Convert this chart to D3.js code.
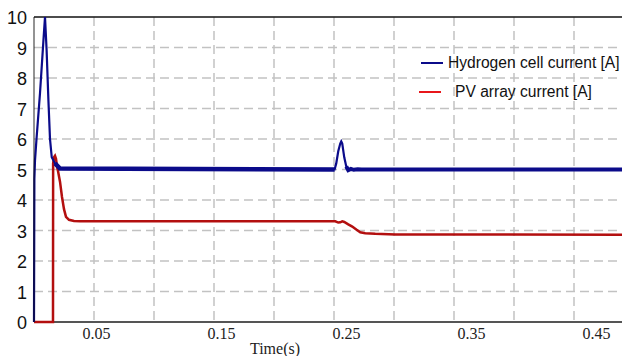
<!DOCTYPE html>
<html lang="en">
<head>
  <meta charset="UTF-8">
  <title>Hydrogen cell and PV array current</title>
  <script src="https://d3js.org/d3.v7.min.js"></script>
  <style>
    body { margin: 0; background: #fff; }
    svg { display: block; }
  </style>
</head>
<body>

<div id="chart"></div>

<script>
  // time (s) / current (A)
  const hydrogenT = [0, 0.0003, 0.0008, 0.002, 0.0048, 0.0075, 0.0088, 0.0101, 0.0115, 0.0128, 0.0142, 0.0168, 0.0208,
    0.2405, 0.2418, 0.2434, 0.245, 0.2458, 0.2466, 0.2482, 0.2498, 0.2514, 0.2535, 0.2558, 0.259, 0.262, 0.266, 0.4704];
  const hydrogenI = [0, 4.7, 5.3, 6.0, 7.5, 9.2, 10, 8.9, 7.3, 6.0, 5.4, 5.2, 5.03,
    5.0, 5.2, 5.6, 5.85, 5.92, 5.85, 5.4, 5.1, 4.98, 5.02, 4.99, 5.01, 5.0, 5.0, 5.0];

  const pvT = [0, 0.0152, 0.0153, 0.016, 0.0168, 0.0176, 0.0184, 0.0192, 0.0208, 0.0224, 0.024, 0.0256, 0.028, 0.032, 0.0368,
    0.241, 0.2434, 0.245, 0.2466, 0.2482, 0.2514, 0.2546, 0.2578, 0.261, 0.265, 0.273, 0.289, 0.4704];
  const pvI = [0, 0, 5.2, 5.4, 5.45, 5.35, 5.1, 4.95, 4.6, 4.1, 3.7, 3.45, 3.35, 3.31, 3.3,
    3.3, 3.26, 3.27, 3.3, 3.28, 3.2, 3.13, 3.03, 2.94, 2.91, 2.89, 2.87, 2.86];

  const xTicks = [0.05, 0.15, 0.25, 0.35, 0.45];
  const yTicks = [0, 1, 2, 3, 4, 5, 6, 7, 8, 9, 10];
  const gridStep = 0.048;
  const legendLabels = ["Hydrogen cell current [A]", "PV array current [A]"];

  const width = 622;
  const height = 356;
  const plotLeft = 34, plotTop = 17, plotRight = 622, plotBottom = 322;

  const x = d3.scaleLinear().domain([0, 0.4704]).range([plotLeft, plotRight]);
  const y = d3.scaleLinear().domain([0, 10]).range([plotBottom, plotTop]);

  const svg = d3.select('#chart')
    .append('svg')
    .attr('width', width)
    .attr('height', height);

  // dashed grid
  const gridX = d3.range(gridStep, 0.4704, gridStep);
  svg.append('g').selectAll('line')
    .data(gridX)
    .enter().append('line')
    .attr('x1', d => x(d)).attr('x2', d => x(d))
    .attr('y1', plotTop).attr('y2', plotBottom)
    .attr('stroke', '#c2c2c2').attr('stroke-width', 1.5)
    .attr('stroke-dasharray', '9,5');

  svg.append('g').selectAll('line')
    .data(yTicks.filter(d => d > 0 && d < 10))
    .enter().append('line')
    .attr('x1', plotLeft).attr('x2', plotRight)
    .attr('y1', d => y(d)).attr('y2', d => y(d))
    .attr('stroke', '#c2c2c2').attr('stroke-width', 1.5)
    .attr('stroke-dasharray', '9,5');

  // frame
  svg.append('line')
    .attr('x1', plotLeft).attr('x2', plotRight).attr('y1', plotTop).attr('y2', plotTop)
    .attr('stroke', '#111').attr('stroke-width', 1.5);
  svg.append('line')
    .attr('x1', plotLeft).attr('x2', plotRight).attr('y1', plotBottom).attr('y2', plotBottom)
    .attr('stroke', '#555').attr('stroke-width', 2);

  // y axis labels
  svg.append('g').selectAll('text')
    .data(yTicks)
    .enter().append('text')
    .attr('x', 27)
    .attr('y', d => y(d) + 7)
    .attr('text-anchor', 'end')
    .attr('font-family', 'Liberation Sans, Arial, sans-serif')
    .attr('font-size', 18)
    .attr('fill', '#111')
    .text(d => d);

  // x axis labels
  svg.append('g').selectAll('text')
    .data(xTicks)
    .enter().append('text')
    .attr('x', d => x(d))
    .attr('y', 339)
    .attr('text-anchor', 'middle')
    .attr('font-family', 'Liberation Serif, serif')
    .attr('font-size', 16)
    .attr('fill', '#222')
    .text(d => d.toFixed(2));

  svg.append('text')
    .attr('x', 275).attr('y', 354)
    .attr('text-anchor', 'middle')
    .attr('font-family', 'Liberation Serif, serif')
    .attr('font-size', 16)
    .attr('fill', '#222')
    .text('Time(s)');

  const line = d3.line()
    .x(d => x(d[0]))
    .y(d => y(d[1]));

  const hydrogen = d3.zip(hydrogenT, hydrogenI);
  const pv = d3.zip(pvT, pvI);

  svg.append('path')
    .datum(pv)
    .attr('d', line)
    .attr('fill', 'none')
    .attr('stroke', '#b30f0f')
    .attr('stroke-width', 2.5);

  svg.append('path')
    .datum(hydrogen)
    .attr('d', line)
    .attr('fill', 'none')
    .attr('stroke', '#0b0b8a')
    .attr('stroke-width', 2.2);

  // steady parts of the hydrogen trace carry a ripple, drawn as a thicker band
  svg.append('path')
    .datum(hydrogen.filter(d => d[0] >= 0.0168 && d[0] <= 0.2405))
    .attr('d', line)
    .attr('fill', 'none')
    .attr('stroke', '#0b0b8a')
    .attr('stroke-width', 4.5);
  svg.append('path')
    .datum(hydrogen.filter(d => d[0] >= 0.2498))
    .attr('d', line)
    .attr('fill', 'none')
    .attr('stroke', '#0b0b8a')
    .attr('stroke-width', 4);

  // re-draw left axis over the traces
  svg.append('line')
    .attr('x1', plotLeft).attr('x2', plotLeft).attr('y1', plotTop).attr('y2', plotBottom)
    .attr('stroke', '#111').attr('stroke-width', 1.5)
    .attr('opacity', 0.6);

  // legend
  const legendColors = ['#0b0b8a', '#e8161b'];
  const legend = svg.append('g');
  legend.selectAll('line')
    .data(legendLabels)
    .enter().append('line')
    .attr('x1', (d, i) => i === 0 ? 421 : 419)
    .attr('x2', (d, i) => i === 0 ? 443 : 441)
    .attr('y1', (d, i) => 63 + i * 29)
    .attr('y2', (d, i) => 63 + i * 29)
    .attr('stroke', (d, i) => legendColors[i])
    .attr('stroke-width', 2);
  legend.selectAll('text')
    .data(legendLabels)
    .enter().append('text')
    .attr('x', (d, i) => i === 0 ? 448 : 455)
    .attr('y', (d, i) => 68 + i * 29)
    .attr('font-family', 'Liberation Sans, Arial, sans-serif')
    .attr('font-size', 15.6)
    .attr('fill', '#111')
    .text(d => d);
</script>

</body>
</html>
